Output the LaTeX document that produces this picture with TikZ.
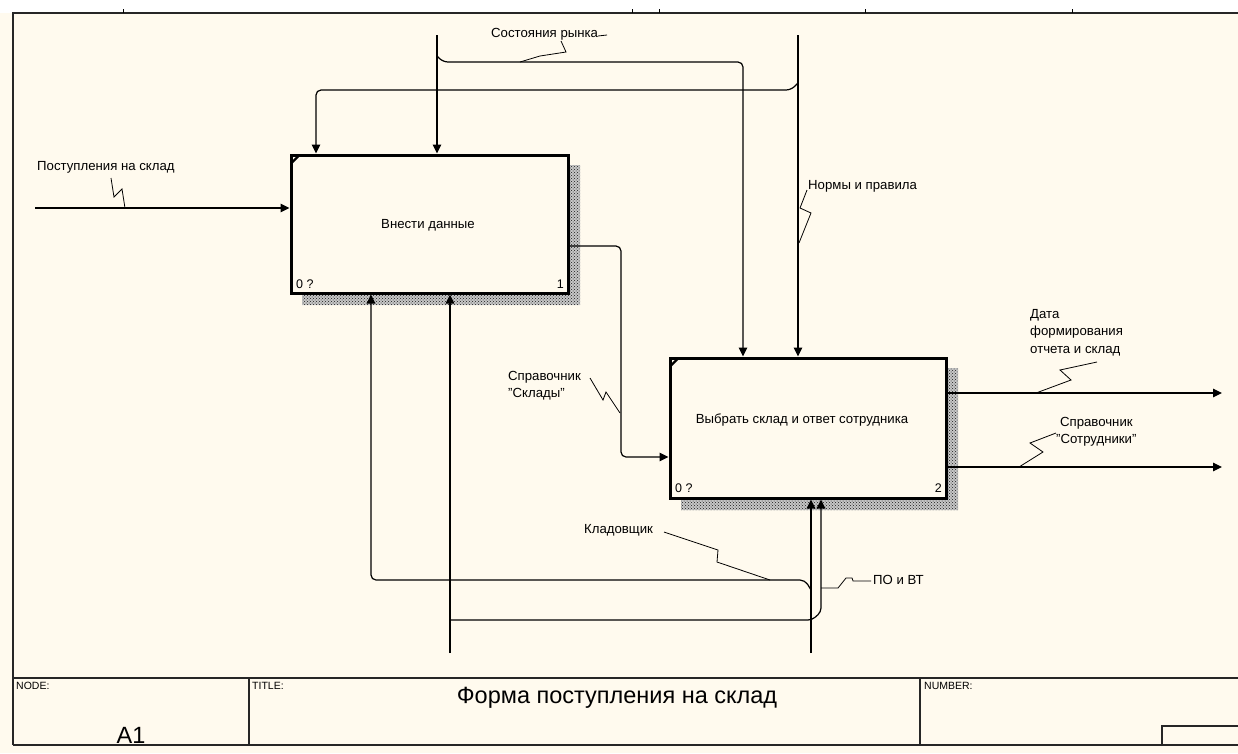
\documentclass[tikz,border=0pt]{standalone}
\usepackage{fontspec}
\setmainfont{Liberation Sans}
\usetikzlibrary{arrows.meta,patterns,calc}
\definecolor{cream}{RGB}{255,250,238}
\tikzset{
  idef/.style={draw, line width=3pt, fill=cream, inner sep=0pt, rectangle},
  arr/.style={line width=1.2pt, -{Triangle[width=8.5pt,length=9pt]}},
  lead/.style={line width=0.8pt},
  lbl/.style={font=\fontsize{13.2}{17.5}\selectfont, inner sep=0pt, align=left},
  boxtxt/.style={font=\fontsize{13.2}{15}\selectfont, inner sep=0pt},
  num/.style={font=\fontsize{12.5}{14}\selectfont, inner sep=0pt},
  shadebase/.style={fill=black!22},
  shade/.style={pattern=crosshatch dots, pattern color=black!90},
  frame/.style={line width=1.5pt, draw=black!85},
  small/.style={font=\fontsize{10.5}{12}\selectfont, inner sep=0pt},
  big/.style={font=\fontsize{23.5}{27}\selectfont, inner sep=0pt}
}
\begin{document}
\begin{tikzpicture}[x=1pt,y=-1pt]
\useasboundingbox (0,0) rectangle (1238,753);
\fill[white] (0,0) rectangle (1238,753);
\fill[cream] (0,13) rectangle (1238,753);

% frame
\draw[frame] (13,745) -- (13,13) -- (1238,13);
\foreach \tx in {123,632,659,865,1072} \draw[line width=0.8pt] (\tx,9) -- (\tx,13);
\draw[frame] (13,678) -- (1238,678);
\draw[frame] (13,745) -- (1238,745);
\draw[frame] (249,678) -- (249,745);
\draw[frame] (920,678) -- (920,745);
\draw[frame] (1162,746) -- (1162,726) -- (1238,726);
\node[small, anchor=north west] (nodelbl) at (16,682) {NODE:};
\node[small, anchor=north west] (titlelbl) at (252,682) {TITLE:};
\node[small, anchor=north west] (numlbl) at (924,682) {NUMBER:};
\node[big] (title) at (617,698) {Форма поступления на склад};
\node[big] (a1) at (131,735) {A1};

% shadows
\path[shadebase] (568,165) -- (580,165) -- (580,305) -- (302,305) -- (302,293) -- (568,293) -- cycle;
\fill[shade] (568,165) -- (580,165) -- (580,305) -- (302,305) -- (302,293) -- (568,293) -- cycle;
\path[shadebase] (946,368) -- (958,368) -- (958,510) -- (681,510) -- (681,498) -- (946,498) -- cycle;
\fill[shade] (946,368) -- (958,368) -- (958,510) -- (681,510) -- (681,498) -- (946,498) -- cycle;

% boxes
\node[idef, minimum width=277pt, minimum height=138pt] (b1) at (429.5,224) {};
\node[boxtxt] (t1) at (428,225) {Внести данные};
\node[idef, minimum width=276pt, minimum height=140pt] (b2) at (808,428) {};
\node[boxtxt] (t2) at (802,420) {Выбрать склад и ответ сотрудника};
\draw[line width=2.2pt] ($(b1.north west)+(1.5,10)$) -- ($(b1.north west)+(10,1.5)$);
\draw[line width=2.2pt] ($(b2.north west)+(1.5,10)$) -- ($(b2.north west)+(10,1.5)$);
\node[num, anchor=base west] (n1a) at (296,288) {0 ?};
\node[num, anchor=base east] (n1b) at (564,288) {1};
\node[num, anchor=base west] (n2a) at (675,492) {0 ?};
\node[num, anchor=base east] (n2b) at (942,492) {2};

% free ends
\coordinate (i1) at (35,208);
\coordinate (cA) at (437,35);
\coordinate (cB) at (798,35);
\coordinate (o1) at (1222,393);
\coordinate (o2) at (1222,467);
\coordinate (mA) at (811,653);
\coordinate (mB) at (450,653);

% input
\draw[arr] (i1) -- (i1 -| b1.west);
% controls
\draw[arr] (cA) -- (cA |- b1.north);
\coordinate (jA) at (437,56);
\coordinate (kA) at (743,62);
\draw[arr, rounded corners=5pt] (jA) -- (443,62) -- (kA) -- (kA |- b2.north);
\draw[arr] (cB) -- (cB |- b2.north);
\coordinate (jB) at (798,83);
\coordinate (kB) at (316,90);
\draw[arr, rounded corners=5pt] (jB) -- (791,90) -- (kB) -- (kB |- b1.north);
% output of box 1 to box 2
\coordinate (s1) at (621,246);
\coordinate (s2) at (621,457);
\draw[arr, rounded corners=5pt] (b1.east |- s1) -- (s1) -- (s2) -- (s2 -| b2.west);
% outputs of box 2
\draw[arr] (o1 -| b2.east) -- (o1);
\draw[arr] (o2 -| b2.east) -- (o2);
% mechanisms
\draw[arr] (mA) -- (mA |- b2.south);
\coordinate (jM) at (811,590);
\coordinate (kM) at (371,580);
\draw[arr, rounded corners=5pt] (jM) -- (805,580) -- (kM) -- (kM |- b1.south);
\draw[arr] (mB) -- (mB |- b1.south);
\coordinate (jP) at (450,620);
\coordinate (kP) at (821,612);
\draw[arr, rounded corners=4pt] (jP) -- (812,620) -- (kP) -- (kP |- b2.south);

% labels and leaders
\node[lbl, anchor=west] (l1) at (37,167) {Поступления на склад};
\draw[lead] (111,178) -- (114,197) -- (122,189) -- (125,208);
\node[lbl, anchor=west] (l2) at (491,34) {Состояния рынка};
\draw[lead] (598,36) -- (607,35);
\draw[lead] (561,41) -- (566,52) -- (540,56) -- (520,62);
\node[lbl, anchor=west] (l3) at (808,186) {Нормы и правила};
\draw[lead] (807,190) -- (800,208) -- (811,213) -- (799,243);
\node[lbl, anchor=north west] (l4) at (508,371) {Справочник\\\char34 Склады\char34{}};
\draw[lead] (590,378) -- (603,400) -- (606,392) -- (620,413);
\node[lbl, anchor=north west] (l5) at (1030,309) {Дата\\формирования\\отчета и склад};
\draw[lead] (1097,362) -- (1060,370) -- (1071,380) -- (1036,393);
\node[lbl, anchor=north west, align=center] (l6) at (1056,417) {Справочник\\\char34 Сотрудники\char34{}};
\draw[lead] (1056,433) -- (1030,443) -- (1043,452) -- (1019,467);
\node[lbl, anchor=west] (l7) at (584,530) {Кладовщик};
\draw[lead] (664,532) -- (718,550) -- (717,562) -- (770,580);
\node[lbl, anchor=west] (l8) at (873,580) {ПО и ВТ};
\draw[lead] (821,588) -- (838,588) -- (846,578) -- (852,578) -- (853,581) -- (871,581);
\end{tikzpicture}
\end{document}
